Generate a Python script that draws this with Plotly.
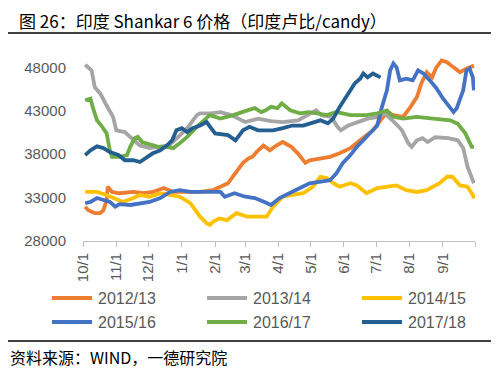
import pandas as pd
import plotly.graph_objects as go

# ---- data (days since Oct 1 of the season, price in INR/candy) ----
series_names = ["2012/13", "2013/14", "2014/15", "2015/16", "2016/17", "2017/18"]
series_colors = ["#ED7D31", "#A5A5A5", "#FFC000", "#4472C4", "#70AD47", "#255E91"]

d_1213 = [2, 5, 11, 16, 19, 22, 23, 27, 34, 47, 56, 65, 75, 84, 97, 109, 121, 128, 135, 140, 144, 149, 154, 158, 162, 168, 174, 180, 186, 194, 200, 207, 211, 221, 230, 239, 249, 258, 264, 270, 277, 283, 289, 298, 305, 311, 315, 320, 325, 329, 334, 339, 345, 351, 357, 364]
v_1213 = [31950, 31550, 31200, 31200, 31550, 32700, 34250, 33650, 33500, 33650, 33500, 33650, 34100, 33650, 33650, 33650, 33850, 34250, 34650, 35500, 36150, 37000, 37500, 37700, 38300, 39000, 38450, 39000, 39400, 38850, 38100, 37000, 37300, 37550, 37700, 38100, 38700, 39600, 40200, 40750, 41900, 42850, 42500, 42300, 43450, 44600, 46150, 47450, 46850, 48000, 48800, 48600, 48000, 47450, 47850, 48200]

d_1314 = [2, 8, 11, 16, 22, 28, 31, 39, 42, 47, 53, 62, 69, 80, 88, 97, 106, 109, 119, 128, 138, 151, 163, 175, 186, 191, 200, 209, 217, 222, 231, 237, 240, 247, 256, 265, 275, 281, 291, 297, 303, 306, 311, 316, 321, 328, 340, 349, 354, 358, 364]
v_1314 = [48300, 47650, 45700, 45000, 43600, 42300, 40750, 40550, 40200, 39600, 39000, 38700, 38850, 39000, 39900, 41000, 42500, 42700, 42700, 42850, 42500, 41700, 42100, 41800, 41700, 41800, 41900, 42500, 43050, 42500, 42300, 41150, 40750, 41300, 41700, 42100, 42300, 42700, 41550, 40750, 39250, 38850, 39600, 39850, 39400, 39950, 39850, 39600, 38700, 36550, 34650]

d_1415 = [2, 13, 22, 28, 37, 47, 53, 62, 72, 81, 90, 100, 109, 115, 118, 121, 127, 134, 143, 153, 166, 171, 177, 186, 195, 205, 214, 221, 227, 233, 239, 249, 255, 264, 274, 283, 292, 301, 311, 320, 326, 332, 339, 344, 351, 358, 363, 364]
v_1415 = [33650, 33650, 33300, 32950, 32500, 32950, 33300, 33100, 33500, 33300, 33100, 32350, 30800, 30050, 29850, 30200, 30600, 30400, 31200, 30800, 30800, 30800, 31950, 33100, 33300, 33500, 34250, 35400, 35250, 34650, 34250, 34650, 34400, 33500, 34100, 34250, 34400, 33850, 33650, 33850, 34250, 34650, 35400, 35400, 34400, 34250, 33300, 32900]

d_1516 = [2, 7, 13, 19, 25, 30, 34, 44, 53, 62, 72, 81, 90, 100, 109, 118, 128, 132, 141, 151, 160, 169, 175, 183, 193, 202, 211, 221, 230, 236, 242, 249, 255, 261, 267, 274, 278, 283, 286, 289, 292, 295, 301, 307, 312, 317, 323, 329, 335, 342, 345, 348, 354, 357, 360, 363, 364]
v_1516 = [32350, 32500, 32950, 32700, 32500, 31950, 32250, 32150, 32350, 32500, 32950, 33650, 33850, 33650, 33650, 33650, 33650, 33100, 33500, 33100, 32950, 32500, 32150, 32950, 33500, 34100, 34650, 34800, 35000, 35800, 37000, 37900, 38850, 39600, 40400, 41300, 43300, 45350, 47650, 48450, 48000, 46500, 46700, 46500, 47650, 47300, 46500, 45600, 44450, 43300, 42850, 43300, 45350, 47650, 47850, 46850, 45350]

d_1617 = [2, 7, 9, 13, 17, 22, 25, 27, 34, 41, 44, 48, 51, 55, 59, 65, 70, 78, 84, 90, 97, 106, 112, 118, 128, 140, 153, 160, 166, 170, 175, 181, 185, 193, 202, 210, 218, 227, 236, 249, 264, 274, 283, 289, 298, 311, 326, 342, 349, 356, 362, 364]
v_1617 = [44200, 44400, 43450, 41900, 41300, 40400, 38450, 37700, 37700, 37900, 38850, 39850, 40000, 39400, 39250, 39050, 38850, 38850, 38700, 39250, 40000, 41150, 41900, 42500, 42100, 42500, 43050, 43300, 42850, 43050, 43450, 43300, 43850, 43050, 42700, 42850, 42700, 42500, 42850, 42500, 42500, 42700, 43050, 42300, 42100, 42300, 42100, 41900, 41500, 40400, 38850, 38850]

d_1718 = [2, 7, 13, 19, 25, 33, 39, 47, 53, 59, 65, 72, 78, 83, 87, 92, 97, 102, 109, 115, 123, 135, 142, 149, 155, 163, 168, 177, 186, 195, 205, 214, 221, 228, 233, 239, 246, 250, 253, 258, 261, 265, 270, 277]
v_1718 = [37900, 38450, 38900, 38700, 38250, 37900, 37300, 37300, 37100, 37550, 38100, 38450, 39000, 39600, 40750, 41000, 40550, 41000, 41300, 41700, 40400, 40200, 39600, 40750, 41150, 40750, 40750, 40750, 41000, 41300, 41300, 41700, 41900, 41550, 42100, 43450, 44800, 45700, 46150, 46700, 47300, 46850, 47300, 46850]

series_days = [d_1213, d_1314, d_1415, d_1516, d_1617, d_1718]
series_vals = [v_1213, v_1314, v_1415, v_1516, v_1617, v_1718]

month_starts = ["2017-10-01", "2017-11-01", "2017-12-01", "2018-01-01", "2018-02-01", "2018-03-01",
                "2018-04-01", "2018-05-01", "2018-06-01", "2018-07-01", "2018-08-01", "2018-09-01", "2018-10-01"]
month_labels = ["10/1", "11/1", "12/1", "1/1", "2/1", "3/1", "4/1", "5/1", "6/1", "7/1", "8/1", "9/1", ""]
y_ticks = [28000, 33000, 38000, 43000, 48000]

title_text = "图 26：印度 Shankar 6 价格（印度卢比/candy）"
source_text = "资料来源：WIND，一德研究院"

season_start = pd.Timestamp("2017-10-01")

fig = go.Figure()
for name, color, days, vals in zip(series_names, series_colors, series_days, series_vals):
    dates = season_start + pd.to_timedelta(days, unit="D")
    fig.add_trace(go.Scatter(x=dates, y=vals, mode="lines", name=name,
                             line=dict(color=color, width=3.8), showlegend=False))

# paper-coordinate helpers (plot area spans window px x 83..475, y 50..241)
def px(X):
    return (X - 83) / 392

def py(Y):
    return (241 - Y) / 191

W, H = 500, 377
shapes = []
annotations = []
col_x = [52, 207, 362]
row_y = [298, 322]
for i, (name, color) in enumerate(zip(series_names, series_colors)):
    cx = col_x[i % 3]
    ry = row_y[i // 3]
    shapes.append(dict(type="line", xref="paper", yref="paper",
                       x0=px(cx), x1=px(cx + 40), y0=py(ry), y1=py(ry),
                       line=dict(color=color, width=4)))
    annotations.append(dict(xref="paper", yref="paper", x=px(cx + 44), y=py(ry),
                            text=name, showarrow=False, xanchor="left", yanchor="middle",
                            font=dict(size=16, color="#595959", family="Liberation Sans")))

for yy in [33, 341]:
    shapes.append(dict(type="line", xref="paper", yref="paper",
                       x0=px(8), x1=px(491), y0=py(yy), y1=py(yy),
                       line=dict(color="#000000", width=1.5)))

annotations.append(dict(xref="paper", yref="paper", x=px(17), y=py(20.5),
                        text=title_text, showarrow=False, xanchor="left", yanchor="middle",
                        font=dict(size=17, color="#000000", family="Noto Sans CJK SC")))
annotations.append(dict(xref="paper", yref="paper", x=px(8), y=py(357),
                        text=source_text, showarrow=False, xanchor="left", yanchor="middle",
                        font=dict(size=16, color="#000000", family="Noto Sans CJK SC")))

# page body has an 8px margin, so the figure is offset by 8px right/down
fig.update_layout(
    width=W, height=H,
    margin=dict(l=75, r=33, t=42, b=144, pad=0),
    paper_bgcolor="white", plot_bgcolor="white",
    shapes=shapes, annotations=annotations,
    xaxis=dict(type="date", range=["2017-10-01", "2018-10-01"],
               tickmode="array", tickvals=month_starts, ticktext=month_labels,
               tickangle=-90, ticks="outside", ticklen=5, tickcolor="#BFBFBF",
               showline=True, linecolor="#BFBFBF", linewidth=1, showgrid=False, zeroline=False,
               tickfont=dict(size=15, color="#595959", family="Liberation Sans")),
    yaxis=dict(range=[28000, 50000], tickmode="array", tickvals=y_ticks,
               ticktext=[str(v) for v in y_ticks], showgrid=False, zeroline=False,
               showline=False, ticks="", ticklabelstandoff=16,
               tickfont=dict(size=15, color="#595959", family="Liberation Sans")),
)

fig.write_html("out.html")
